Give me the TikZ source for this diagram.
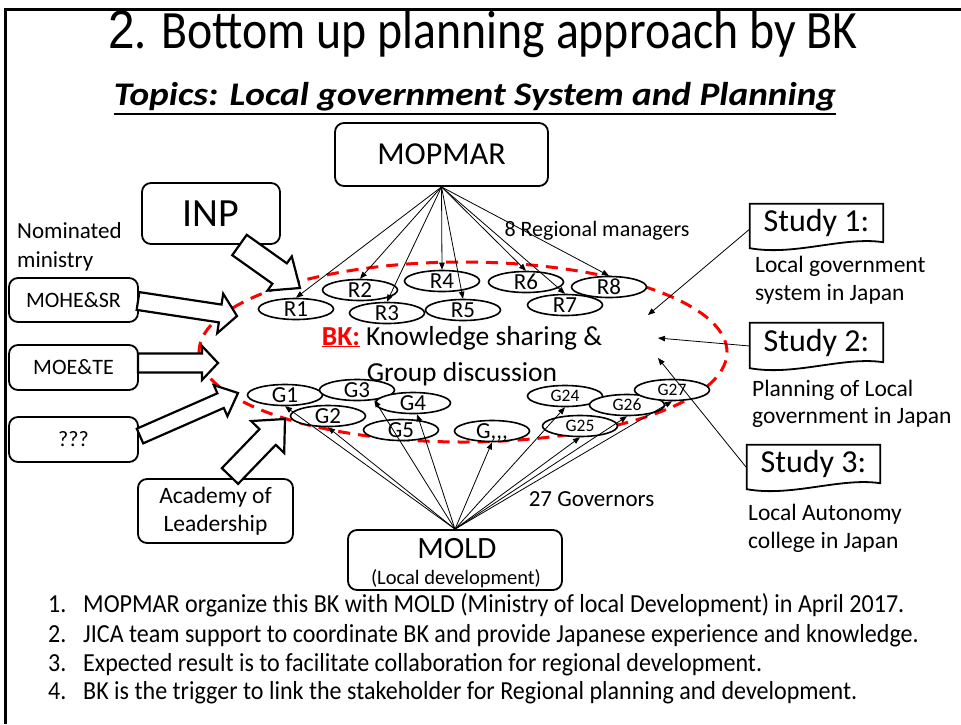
\documentclass[tikz,border=0pt]{standalone}
\usepackage{fontspec}
\setmainfont{Carlito}
\newfontfamily\titlefont[FakeStretch=0.885]{Carlito}
\newfontfamily\titletwo[FakeStretch=0.885]{Liberation Sans}
\newfontfamily\subfont[FakeStretch=1.13]{Carlito}
\newfontfamily\listfont[FakeStretch=0.925]{Carlito}
\usetikzlibrary{shapes.geometric,arrows.meta,calc}
\newcommand\fsz[1]{\fontsize{#1}{#1}\selectfont}
\newcommand\blockarrow[5]{%
  \coordinate (ba-h) at ($(#2)!#5pt!(#1)$);
  \draw[barrow] ($(#1)!#3pt!90:(#2)$) -- ($(ba-h)!#3pt!90:(#2)$) -- ($(ba-h)!#4pt!90:(#2)$) -- (#2)
     -- ($(ba-h)!#4pt!-90:(#2)$) -- ($(ba-h)!#3pt!-90:(#2)$) -- ($(#1)!#3pt!-90:(#2)$) -- cycle;}
\tikzset{
  box/.style={draw, rounded corners=9pt, line width=1.8pt, inner sep=0pt, align=center, fill=white},
  oval/.style={draw, ellipse, fill=white, line width=1.6pt, inner sep=0pt, minimum width=75pt,
     minimum height=21pt, text height=14pt, text depth=0pt, font=\fsz{23}},
  ovals/.style={oval, font=\fsz{17.5}, text height=11pt},
  conn/.style={-{Triangle[length=7pt,width=5.5pt]}, line width=0.8pt},
  barrow/.style={draw, fill=white, line width=2.2pt, line join=miter},
  doc/.style={line width=1.8pt, line join=miter},
  txt/.style={inner sep=0pt},
  reddash/.style={draw=red, line width=3pt, dash pattern=on 12pt off 8pt}
}
\begin{document}
\begin{tikzpicture}[x=1pt,y=-1pt]
\useasboundingbox (0,0) rectangle (961,724);
% frame
\draw[line width=3pt] (5.7,724) -- (5.7,9.7) -- (961,9.7);
% titles
\node[txt, anchor=base] (title) at (483,48) {\fsz{54}\titletwo 2\titlefont. Bottom up planning approach by BK};
\node[txt, anchor=base] (sub) at (475,105) {\fsz{33}\subfont\bfseries\itshape Topics: Local government System and Planning};
\draw[line width=2.5pt] ([yshift=-9pt]sub.base west) -- ([yshift=-9pt]sub.base east);
% red dashed ellipse
\draw[reddash] (463,352) ellipse [x radius=264pt, y radius=90pt];
% boxes
\node[box, minimum width=213pt, minimum height=63pt, font=\fsz{32}] (mopmar) at (441.5,154.5) {MOPMAR};
\node[box, minimum width=138pt, minimum height=61pt, font=\fsz{40}] (inp) at (211,213.5) {INP};
\node[box, minimum width=129pt, minimum height=44pt, font=\fsz{22}] (mohe) at (73.5,300) {MOHE\&SR};
\node[box, minimum width=129pt, minimum height=45pt, font=\fsz{22}] (moe) at (73.5,367.5) {MOE\&TE};
\node[box, minimum width=129pt, minimum height=45pt, font=\fsz{22}] (qqq) at (73.5,439.5) {???};
\node[box, minimum width=155pt, minimum height=64pt, font=\fontsize{23.5}{28}\selectfont] (acad) at (215.5,511) {Academy of\\Leadership};
\node[box, minimum width=214pt, minimum height=60pt] (mold) at (455,560) {};
\node[txt, anchor=base, font=\fsz{31}] (moldt) at (457,558) {MOLD};
\node[txt, anchor=base, font=\fsz{20.5}] (molds) at (456,584) {(Local development)};
% nominated
\node[txt, anchor=base west, font=\fsz{23}] (nom1) at (17,238) {Nominated};
\node[txt, anchor=base west, font=\fsz{23}] (nom2) at (17,267) {ministry};
% block arrows
\coordinate (inpT) at (239.5,245); \coordinate (inpH) at (300,288);
\blockarrow{inpT}{inpH}{12.5}{21}{25}
\coordinate (moheT) at (138,301); \coordinate (moheH) at (237,316);
\blockarrow{moheT}{moheH}{9}{20}{17}
\coordinate (moeT) at (138,363); \coordinate (moeH) at (218,363);
\blockarrow{moeT}{moeH}{9.5}{17}{16}
\coordinate (qqqT) at (140,436); \coordinate (qqqH) at (238,393);
\blockarrow{qqqT}{qqqH}{8}{17}{19}
\coordinate (acadT) at (230,476); \coordinate (acadH) at (285,419);
\blockarrow{acadT}{acadH}{11.3}{23}{25}
% R ovals
\node[oval] (R1) at (296,309) {R1};
\node[oval] (R2) at (360,290) {R2};
\node[oval] (R4) at (442,281) {R4};
\node[oval] (R3) at (387,313) {R3};
\node[oval] (R5) at (463,310) {R5};
\node[oval] (R6) at (526,282) {R6};
\node[oval] (R7) at (565,305) {R7};
\node[oval] (R8) at (609,287) {R8};
% G ovals
\node[oval] (G1) at (285,395) {G1};
\node[oval] (G3) at (357,390) {G3};
\node[oval] (G2) at (328,416) {G2};
\node[oval] (G4) at (413,403) {G4};
\node[oval] (G5) at (401,430) {G5};
\node[oval] (Gx) at (492,431) {G,{},{},};
\node[ovals] (G24) at (565,396) {G24};
\node[ovals] (G25) at (580,426) {G25};
\node[ovals] (G26) at (627,405) {G26};
\node[ovals] (G27) at (672,390) {G27};
% BK text
\node[txt, anchor=base, font=\fsz{27.5}] (bk1) at (462,345) {\textcolor{red}{\bfseries\underline{BK:}} Knowledge sharing \&};
\node[txt, anchor=base, font=\fsz{27.5}] (bk2) at (462,381) {Group discussion};
% labels
\node[txt, anchor=base, font=\fsz{22}] (regm) at (597,236) {8 Regional managers};
\node[txt, anchor=base, font=\fsz{23}] (gov) at (591.5,506) {27 Governors};
% connectors
\foreach \r in {R1,R2,R3,R4,R5,R6,R7,R8} \draw[conn] (mopmar.south) -- (\r.north);
\foreach \g/\a in {G1/south,G2/south,G3/-30,G4/-70,Gx/south,G24/south,G25/south,G26/south,G27/south}
  \draw[conn] (mold.north) -- (\g.\a);
% studies
\node[txt, minimum width=133pt, minimum height=38pt, font=\fsz{32}] (s1) at (816.5,223) {Study 1:};
\draw[doc] (s1.north west) -- (s1.north east) -- (s1.south east) .. controls +(-40,-6) and +(45,8) .. ([yshift=-6pt]s1.south west) -- cycle;
\node[txt, minimum width=133pt, minimum height=39pt, font=\fsz{32}] (s2) at (816.5,342.5) {Study 2:};
\draw[doc] (s2.north west) -- (s2.north east) -- (s2.south east) .. controls +(-40,-6) and +(45,8) .. ([yshift=-6pt]s2.south west) -- cycle;
\node[txt, minimum width=133pt, minimum height=38pt, font=\fsz{32}] (s3) at (813.5,464) {Study 3:};
\draw[doc] (s3.north west) -- (s3.north east) -- (s3.south east) .. controls +(-40,-6) and +(45,8) .. ([yshift=-6pt]s3.south west) -- cycle;
\node[txt, anchor=base west, font=\fsz{23.5}] (s1a) at (755,272) {Local government};
\node[txt, anchor=base west, font=\fsz{23.5}] (s1b) at (755,300) {system in Japan};
\node[txt, anchor=base west, font=\fsz{23.5}] (s2a) at (752,396) {Planning of Local};
\node[txt, anchor=base west, font=\fsz{23.5}] (s2b) at (752,423) {government in Japan};
\node[txt, anchor=base west, font=\fsz{23.5}] (s3a) at (748,520) {Local Autonomy};
\node[txt, anchor=base west, font=\fsz{23.5}] (s3b) at (748,548) {college in Japan};
\coordinate (c1) at (648,315);
\coordinate (c2) at (658,338);
\coordinate (c3) at (658,358);
\draw[conn] ([yshift=-6pt]s1.west) -- (c1);
\draw[conn] ([yshift=-3.5pt]s2.west) -- (c2);
\draw[conn] ([yshift=-4pt]s3.west) -- (c3);
% list
\foreach \i/\y/\t in {1/612/{MOPMAR organize this BK with MOLD (Ministry of local Development) in April 2017.},
  2/642/{JICA team support to coordinate BK and provide Japanese experience and knowledge.},
  3/671/{Expected result is to facilitate collaboration for regional development.},
  4/699/{BK is the trigger to link the stakeholder for Regional planning and development.}} {
  \node[txt, anchor=base west, font=\listfont\fsz{26}] (n\i) at (48,\y) {\i.};
  \node[txt, anchor=base west, font=\listfont\fsz{26}] (l\i) at (83,\y) {\t};
}
\end{tikzpicture}
\end{document}
